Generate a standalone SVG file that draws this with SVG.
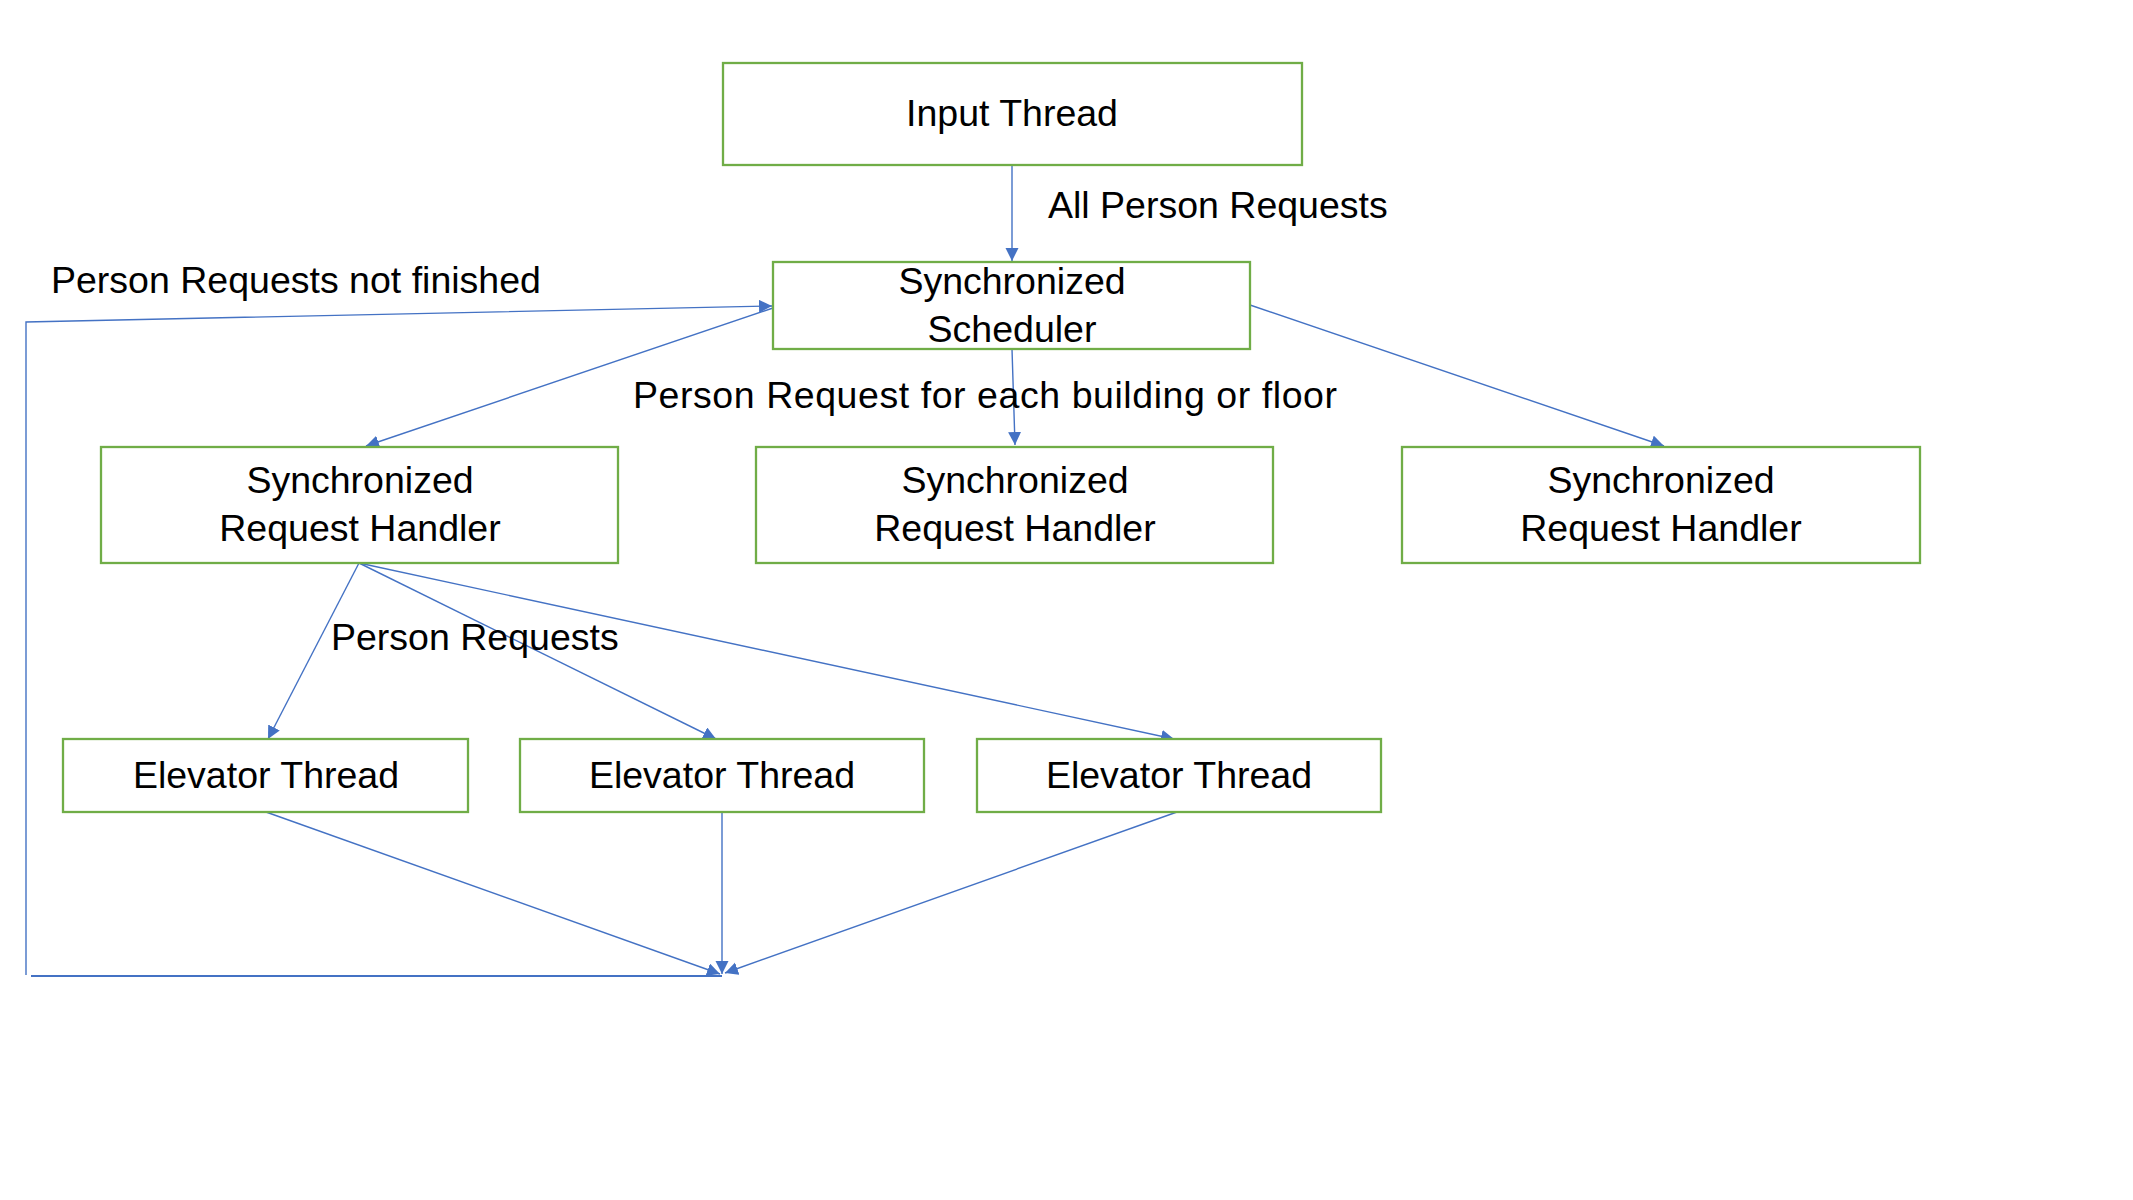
<svg xmlns="http://www.w3.org/2000/svg" width="2133" height="1200" viewBox="0 0 2133 1200">
<style>
.box{fill:#fff;stroke:#70AD47;stroke-width:2.3}
.t{font-family:"Liberation Sans",Arial,sans-serif;font-size:37.5px;fill:#000}
.c{text-anchor:middle}
.ln{fill:none;stroke:#4472C4;stroke-width:1.4}
</style>
<defs>
<marker id="ah" markerUnits="userSpaceOnUse" markerWidth="14" markerHeight="14" refX="13" refY="6.5" orient="auto">
<path d="M0,0 L13,6.5 L0,13 z" fill="#4472C4"/>
</marker>
</defs>
<rect width="2133" height="1200" fill="#fff"/>
<g id="connectors">
<line class="ln" x1="1012" y1="165" x2="1012" y2="261" marker-end="url(#ah)"/>
<polyline class="ln" points="26,975 26,322 772,306" marker-end="url(#ah)"/>
<line x1="31" y1="976" x2="722" y2="976" stroke="#4472C4" stroke-width="2"/>
<line class="ln" x1="773" y1="308" x2="366" y2="446" marker-end="url(#ah)"/>
<line class="ln" x1="1012" y1="349" x2="1015" y2="445" marker-end="url(#ah)"/>
<line class="ln" x1="1250" y1="305" x2="1664" y2="446" marker-end="url(#ah)"/>
<line class="ln" x1="359" y1="563" x2="268" y2="739" marker-end="url(#ah)"/>
<line class="ln" x1="359" y1="563" x2="716" y2="739" marker-end="url(#ah)"/>
<line class="ln" x1="359" y1="563" x2="1174" y2="739" marker-end="url(#ah)"/>
<line class="ln" x1="266" y1="812" x2="720" y2="974" marker-end="url(#ah)"/>
<line class="ln" x1="722" y1="812" x2="722" y2="974" marker-end="url(#ah)"/>
<line class="ln" x1="1177" y1="812" x2="725" y2="973" marker-end="url(#ah)"/>
</g>
<g id="labels">
<text class="t" x="1048" y="218">All Person Requests</text>
<text class="t" x="51" y="293">Person Requests not finished</text>
<text class="t" x="633" y="408" textLength="704">Person Request for each building or floor</text>
<text class="t" x="331" y="650">Person Requests</text>
</g>
<g id="input-thread">
<rect class="box" x="723" y="63" width="579" height="102"/>
<text class="t c" x="1012" y="126">Input Thread</text>
</g>
<g id="scheduler">
<rect class="box" x="773" y="262" width="477" height="87" fill-opacity="0"/>
<text class="t c" x="1012" y="294">Synchronized</text>
<text class="t c" x="1012" y="342">Scheduler</text>
</g>
<g id="handler-1">
<rect class="box" x="101" y="447" width="517" height="116"/>
<text class="t c" x="360" y="493">Synchronized</text>
<text class="t c" x="360" y="541">Request Handler</text>
</g>
<g id="handler-2">
<rect class="box" x="756" y="447" width="517" height="116"/>
<text class="t c" x="1015" y="493">Synchronized</text>
<text class="t c" x="1015" y="541">Request Handler</text>
</g>
<g id="handler-3">
<rect class="box" x="1402" y="447" width="518" height="116"/>
<text class="t c" x="1661" y="493">Synchronized</text>
<text class="t c" x="1661" y="541">Request Handler</text>
</g>
<g id="elevator-1">
<rect class="box" x="63" y="739" width="405" height="73"/>
<text class="t c" x="266" y="788">Elevator Thread</text>
</g>
<g id="elevator-2">
<rect class="box" x="520" y="739" width="404" height="73"/>
<text class="t c" x="722" y="788">Elevator Thread</text>
</g>
<g id="elevator-3">
<rect class="box" x="977" y="739" width="404" height="73"/>
<text class="t c" x="1179" y="788">Elevator Thread</text>
</g>
</svg>
